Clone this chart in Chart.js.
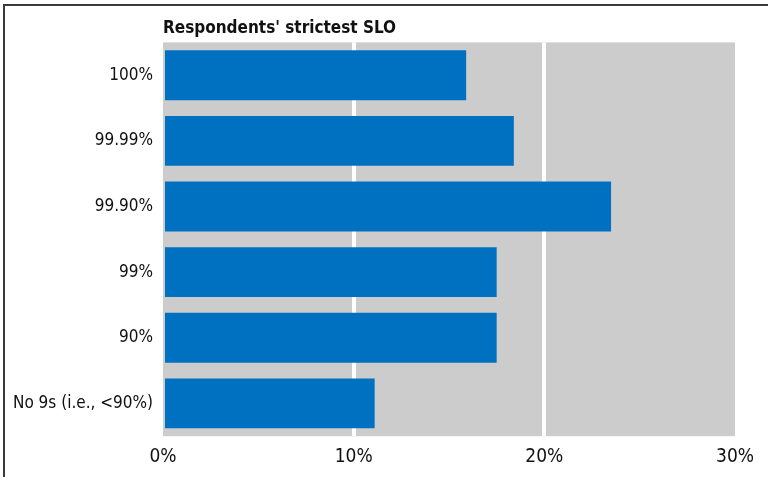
<!DOCTYPE html>
<html>
<head>
<meta charset="utf-8">
<script src="https://cdn.jsdelivr.net/npm/chart.js@4"></script>
<style>
  html, body { margin: 0; padding: 0; background: #fff; overflow: hidden; }
  #frame { position: absolute; left: 3px; top: 4px; width: 800px; height: 500px;
           border-left: 2px solid #3a3a3a; border-top: 2px solid #3a3a3a; }
  #wrap { position: absolute; left: 0; top: 0; width: 768px; height: 477px; }
</style>
</head>
<body>
<div id="frame"></div>
<div id="wrap"><canvas id="slo" width="768" height="477"></canvas></div>
<script>
var ctx = document.getElementById('slo').getContext('2d');
/* strictest SLO per respondent */
const categories = ['100%', '99.99%', '99.90%', '99%', '90%', 'No 9s (i.e., <90%)'];
const shares = [15.9, 18.4, 23.5, 17.5, 17.5, 11.1];
const xTicks = [0, 10, 20, 30];

const fontFam = '"DejaVu Sans Condensed", "Liberation Sans Narrow", "Roboto", sans-serif';

// gray panel behind the bars
const panelBg = {
    id: 'panelBg',
    beforeDraw(chart) {
        const a = chart.chartArea;
        chart.ctx.save();
        chart.ctx.fillStyle = '#cccccc';
        chart.ctx.fillRect(a.left, a.top, a.right - a.left, a.bottom - a.top);
        chart.ctx.restore();
    }
};

var myChart = new Chart(ctx, {
    type: 'bar',
    data: {
        labels: categories,
        datasets: [{
            label: 'Respondents',
            data: shares,
            backgroundColor: '#0070c0',
            borderWidth: 0,
            barPercentage: 0.76,
            categoryPercentage: 1
        }]
    },
    options: {
        indexAxis: 'y',
        responsive: false,
        animation: false,
        layout: { padding: { left: 0, right: 33, top: 9, bottom: 0 } },
        plugins: {
            legend: { display: false },
            tooltip: { enabled: false },
            title: {
                display: true,
                text: "Respondents' strictest SLO",
                align: 'start',
                fullSize: false,
                color: '#111',
                font: { family: fontFam, size: 17, weight: 'bold' },
                padding: { top: 9, bottom: 4 }
            }
        },
        scales: {
            x: {
                min: 0,
                max: 30,
                afterBuildTicks(axis) { axis.ticks = xTicks.map(v => ({ value: v })); },
                border: { display: false },
                grid: {
                    color: c => (c.tick && (c.tick.value === 10 || c.tick.value === 20)) ? '#ffffff' : 'rgba(0,0,0,0)',
                    lineWidth: 4,
                    drawTicks: false
                },
                ticks: {
                    callback: v => v + '%',
                    color: '#111',
                    padding: 9,
                    maxRotation: 0,
                    font: { family: fontFam, size: 19 }
                }
            },
            y: {
                afterFit(axis) { axis.width = 163; },
                border: { display: false },
                grid: { display: false, drawTicks: false },
                ticks: {
                    color: '#111',
                    padding: 10,
                    font: { family: fontFam, size: 17 }
                }
            }
        }
    },
    plugins: [panelBg]
});
</script>
</body>
</html>
